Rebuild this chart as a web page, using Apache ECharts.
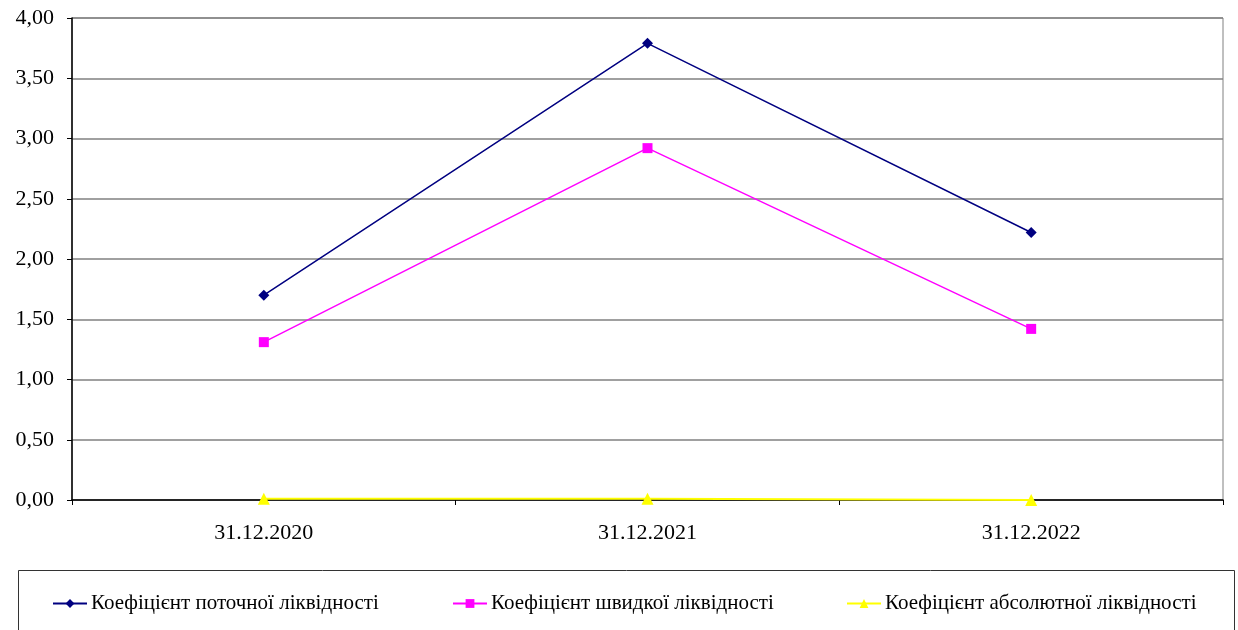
<!DOCTYPE html>
<html>
<head>
<meta charset="utf-8">
<script src="https://cdn.jsdelivr.net/npm/echarts@6/dist/echarts.min.js"></script>
<style>
  html, body { margin: 0; padding: 0; background: #fff; }
  #chart { width: 1238px; height: 630px; }
</style>
</head>
<body>
<div id="chart"></div>
<script>
// дані
const categories = ['31.12.2020', '31.12.2021', '31.12.2022'];
const seriesNames = [
  'Коефіцієнт поточної ліквідності',
  'Коефіцієнт швидкої ліквідності',
  'Коефіцієнт абсолютної ліквідності'
];
const currentRatio = [1.70, 3.79, 2.22];
const quickRatio = [1.31, 2.92, 1.42];
const absoluteRatio = [0.01, 0.01, 0.00];

const font = 'Liberation Serif';

const chart = echarts.init(document.getElementById('chart'));

const option = {
  backgroundColor: '#fff',
  animation: false,
  textStyle: { fontFamily: font },
  grid: {
    left: 72, right: 15, top: 18, bottom: 130,
    show: true, borderColor: '#808080', borderWidth: 1
  },
  graphic: [{
    type: 'rect',
    shape: { x: 18.5, y: 570.5, width: 1216, height: 70 },
    style: { fill: 'none', stroke: '#333', lineWidth: 1 },
    silent: true
  }],
  legend: [
    { data: [seriesNames[0]], left: 52 },
    { data: [seriesNames[1]], left: 452 },
    { data: [seriesNames[2]], left: 846 }
  ].map(l => Object.assign(l, {
    top: 593, padding: 0,
    itemWidth: 34, itemHeight: 11, itemGap: 0,
    textStyle: { fontFamily: font, fontSize: 21, color: '#000', padding: [0, 0, 0, -1] }
  })),
  xAxis: {
    type: 'category',
    data: categories,
    boundaryGap: true,
    axisLine: { lineStyle: { color: '#000', width: 1.5 } },
    axisTick: { show: true, length: 5, lineStyle: { color: '#000' } },
    axisLabel: { fontFamily: font, fontSize: 22, color: '#000', margin: 22 },
    splitLine: { show: false }
  },
  yAxis: {
    type: 'value',
    min: 0, max: 4, interval: 0.5,
    axisLine: { show: true, lineStyle: { color: '#000', width: 1.5 } },
    axisTick: { show: true, length: 5, lineStyle: { color: '#000' } },
    axisLabel: {
      fontFamily: font, fontSize: 22, color: '#000', margin: 18,
      formatter: v => v.toFixed(2).replace('.', ',')
    },
    splitLine: { lineStyle: { color: '#808080', width: 1.5 } }
  },
  series: [
    {
      name: seriesNames[0], type: 'line', data: currentRatio,
      symbol: 'diamond', symbolSize: 11,
      itemStyle: { color: '#000080' },
      lineStyle: { color: '#000080', width: 1.5 }
    },
    {
      name: seriesNames[1], type: 'line', data: quickRatio,
      symbol: 'rect', symbolSize: 10,
      itemStyle: { color: '#FF00FF' },
      lineStyle: { color: '#FF00FF', width: 1.5 }
    },
    {
      name: seriesNames[2], type: 'line', data: absoluteRatio,
      symbol: 'triangle', symbolSize: 12,
      itemStyle: { color: '#FFFF00' },
      lineStyle: { color: '#FFFF00', width: 2 }
    }
  ]
};

chart.setOption(option);
</script>
</body>
</html>
